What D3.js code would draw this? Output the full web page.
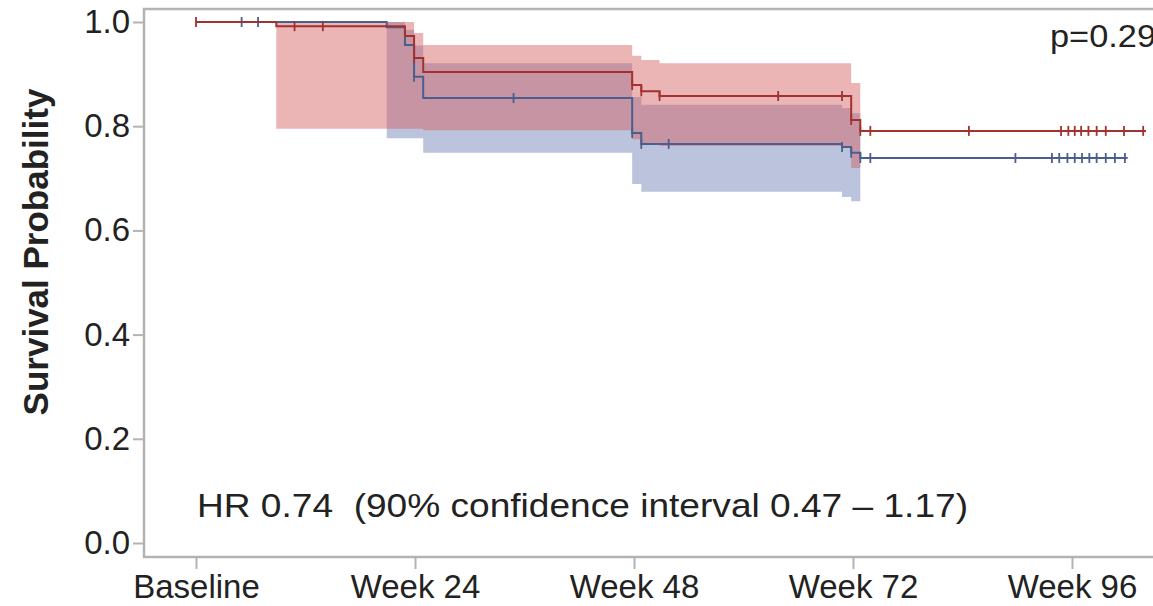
<!DOCTYPE html>
<html><head><meta charset="utf-8">
<script src="https://cdn.jsdelivr.net/npm/d3@7"></script>
<style>html,body{margin:0;padding:0;background:#fff;}svg{display:block;font-family:"Liberation Sans",Arial,sans-serif;}</style>
</head><body>
<svg id="c" width="1153" height="606"></svg>
<script>
// ---- data ----
const xTickWeeks = [0, 24, 48, 72, 96];
const xTickLabels = ["Baseline", "Week 24", "Week 48", "Week 72", "Week 96"];
const yTicks = [0, 0.2, 0.4, 0.6, 0.8, 1.0];
const yTickLabels = ["0.0", "0.2", "0.4", "0.6", "0.8", "1.0"];

// red group KM
const redTime = [0, 8.8, 22.9, 23.9, 24.9, 47.8, 48.8, 50.8, 71.8, 72.8];
const redSurv = [1.0, 0.992, 0.973, 0.931, 0.904, 0.879, 0.867, 0.858, 0.812, 0.791];
const redEnd = 104.1;
const redCensor = [0, 10.8, 13.9, 23.9, 47.8, 48.8, 50.8, 63.8, 70.8, 71.8, 72.8, 73.9, 84.7,
  94.8, 95.6, 96.3, 97.0, 97.8, 98.7, 99.7, 101.7, 103.8];
const redCITime = [8.8, 22.9, 23.9, 24.9, 47.8, 48.8, 50.8, 71.8, 72.8];
const redLower = [0.795, 0.795, 0.795, 0.792, 0.775, 0.765, 0.762, 0.72];
const redUpper = [1.0, 1.0, 0.979, 0.956, 0.935, 0.927, 0.921, 0.883];

// blue group KM
const blueTime = [0, 20.9, 22.9, 23.9, 24.9, 47.8, 48.8, 70.8, 71.8, 72.8];
const blueSurv = [1.0, 0.99, 0.956, 0.895, 0.854, 0.787, 0.766, 0.760, 0.749, 0.739];
const blueEnd = 102.1;
const blueCensor = [5.0, 6.8, 23.9, 34.8, 47.8, 48.8, 51.8, 70.8, 71.8, 72.8, 73.9, 89.8,
  93.8, 94.6, 95.5, 96.3, 97.1, 97.9, 98.7, 99.7, 100.7, 101.8];
const blueCITime = [20.9, 22.9, 23.9, 24.9, 47.8, 48.8, 70.8, 71.8, 72.8];
const blueLower = [0.777, 0.777, 0.777, 0.749, 0.689, 0.674, 0.664, 0.656];
const blueUpper = [1.0, 0.985, 0.955, 0.921, 0.856, 0.841, 0.835, 0.825];

const pText = "p=0.29";
const hrText = "HR 0.74  (90% confidence interval 0.47 \u2013 1.17)";
const yTitle = "Survival Probability";

// ---- layout ----
const svg = d3.select("#c");
const frame = {left: 144, top: 9, right: 1170, bottom: 557};
const x = d3.scaleLinear().domain([0, 96]).range([196, 1072]);
const y = d3.scaleLinear().domain([0, 1]).range([543, 22]);
const axisCol = "#b3b3b3";
const textCol = "#222";
const redLine = "#a3322f", blueLine = "#4a5f8e";

// frame
svg.append("rect").attr("x", frame.left).attr("y", frame.top)
  .attr("width", frame.right - frame.left).attr("height", frame.bottom - frame.top)
  .attr("fill", "none").attr("stroke", axisCol).attr("stroke-width", 2.5);

// axes
const yAxis = d3.axisLeft(y).tickValues(yTicks).tickFormat((d, i) => yTickLabels[i]).tickSize(11).tickPadding(3);
const gy = svg.append("g").attr("transform", `translate(${frame.left},0)`).call(yAxis);
gy.select(".domain").remove();
gy.selectAll("line").attr("stroke", axisCol).attr("stroke-width", 2);
gy.selectAll("text").attr("font-size", 33).attr("fill", textCol).attr("font-family", "Liberation Sans, Arial, sans-serif");

const xAxis = d3.axisBottom(x).tickValues(xTickWeeks).tickFormat((d, i) => xTickLabels[i]).tickSize(12).tickPadding(6);
const gx = svg.append("g").attr("transform", `translate(0,${frame.bottom})`).call(xAxis);
gx.select(".domain").remove();
gx.selectAll("line").attr("stroke", axisCol).attr("stroke-width", 2);
gx.selectAll("text").attr("font-size", 33).attr("fill", textCol).attr("font-family", "Liberation Sans, Arial, sans-serif");

// CI bands
function bandData(t, lo, hi) {
  const d = lo.map((v, i) => ({t: t[i], lo: v, hi: hi[i]}));
  d.push({t: t[t.length - 1], lo: lo[lo.length - 1], hi: hi[hi.length - 1]});
  return d;
}
const area = d3.area().curve(d3.curveStepAfter)
  .x(d => x(d.t)).y0(d => y(d.lo)).y1(d => y(d.hi));
svg.append("path").datum(bandData(blueCITime, blueLower, blueUpper))
  .attr("d", area).attr("fill", "#bcc4dd");
svg.append("path").datum(bandData(redCITime, redLower, redUpper))
  .attr("d", area).attr("fill", "rgb(210,90,94)").attr("fill-opacity", 0.45);

// KM lines
function stepData(t, s, end) {
  const d = t.map((v, i) => ({t: v, s: s[i]}));
  d.push({t: end, s: s[s.length - 1]});
  return d;
}
function survAt(t, s, tt) {
  let v = s[0];
  for (let i = 0; i < t.length; i++) if (t[i] <= tt + 1e-9) v = s[i];
  return v;
}
const line = d3.line().curve(d3.curveStepAfter).x(d => x(d.t)).y(d => y(d.s));
function drawGroup(t, s, end, cens, col) {
  svg.append("path").datum(stepData(t, s, end)).attr("d", line)
    .attr("fill", "none").attr("stroke", col).attr("stroke-width", 2);
  svg.append("g").selectAll("line").data(cens).join("line")
    .attr("x1", d => x(d)).attr("x2", d => x(d))
    .attr("y1", d => y(survAt(t, s, d)) - 5).attr("y2", d => y(survAt(t, s, d)) + 5)
    .attr("stroke", col).attr("stroke-width", 1.8);
}
drawGroup(blueTime, blueSurv, blueEnd, blueCensor, blueLine);
drawGroup(redTime, redSurv, redEnd, redCensor, redLine);

// texts
svg.append("text").attr("x", 1050).attr("y", 47).attr("font-size", 32).attr("fill", textCol)
  .attr("textLength", 106).attr("lengthAdjust", "spacingAndGlyphs").text(pText);
svg.append("text").attr("x", 197).attr("y", 517).attr("font-size", 34).attr("fill", textCol)
  .style("white-space", "pre").attr("xml:space", "preserve")
  .attr("textLength", 771).attr("lengthAdjust", "spacingAndGlyphs").text(hrText);
svg.append("text").attr("transform", "translate(48,252) rotate(-90)").attr("text-anchor", "middle")
  .attr("font-size", 35).attr("font-weight", "bold").attr("fill", textCol).text(yTitle);
</script>
</body></html>
